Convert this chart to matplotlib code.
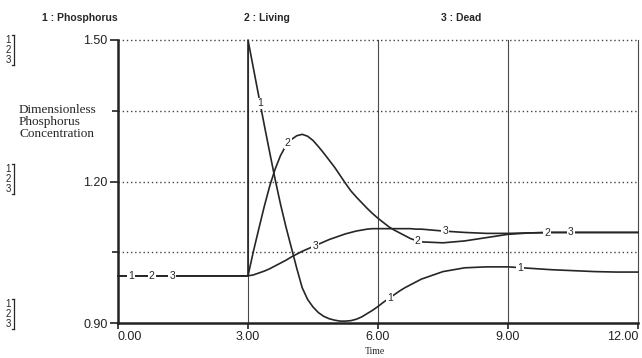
import numpy as np
import matplotlib
matplotlib.use('Agg')
import matplotlib.pyplot as plt
from matplotlib.lines import Line2D

# simulation output, read at these times (t=3 repeated for the pulse)
time = [0.0, 1.0, 2.0, 3.0,
        3.0, 3.125, 3.25, 3.375, 3.5, 3.625, 3.75, 3.875,
        4.0, 4.125, 4.25, 4.375, 4.5, 4.625, 4.75, 4.875,
        5.0, 5.125, 5.25, 5.375, 5.5, 5.625, 5.75, 5.875,
        6.0, 6.125, 6.25, 6.375, 6.5, 6.625, 6.75, 6.875,
        7.0, 7.5, 8.0, 8.5, 9.0, 9.5, 10.0, 10.5, 11.0, 11.5, 12.0]
phosphorus = [1.0, 1.0, 1.0, 1.0,
              1.50, 1.44, 1.38, 1.32, 1.262, 1.205, 1.152, 1.104,
              1.06, 1.016, 0.975, 0.950, 0.934, 0.922, 0.914, 0.909,
              0.906, 0.904, 0.904, 0.905, 0.908, 0.913, 0.92, 0.927,
              0.935, 0.944, 0.952, 0.96, 0.968, 0.975, 0.981, 0.987,
              0.993, 1.009, 1.017, 1.019, 1.019, 1.016, 1.013, 1.011, 1.009, 1.008, 1.008]
living = [1.0, 1.0, 1.0, 1.0,
          1.0, 1.052, 1.10, 1.147, 1.19, 1.226, 1.255, 1.276,
          1.289, 1.297, 1.30, 1.296, 1.287, 1.274, 1.26, 1.245,
          1.23, 1.213, 1.196, 1.18, 1.167, 1.155, 1.143, 1.132,
          1.122, 1.113, 1.104, 1.097, 1.091, 1.085, 1.079, 1.075,
          1.072, 1.070, 1.074, 1.081, 1.088, 1.091, 1.092, 1.092, 1.092, 1.092, 1.092]
dead = [1.0, 1.0, 1.0, 1.0,
        1.0, 1.002, 1.006, 1.010, 1.015, 1.021, 1.027, 1.033,
        1.04, 1.046, 1.052, 1.057, 1.062, 1.067, 1.072, 1.077,
        1.081, 1.085, 1.089, 1.092, 1.095, 1.097, 1.099, 1.100,
        1.100, 1.100, 1.100, 1.100, 1.100, 1.100, 1.100, 1.099,
        1.099, 1.095, 1.092, 1.090, 1.090, 1.091, 1.092, 1.092, 1.092, 1.092, 1.092]

names = ['Phosphorus', 'Living', 'Dead']
series = [phosphorus, living, dead]
# where the curve numbers sit along each line
label_times = [[0.30, 3.28, 6.27, 9.28],
               [0.78, 3.92, 6.92, 9.90],
               [1.25, 4.55, 7.55, 10.45]]

xticks = [0, 3, 6, 9, 12]
xticklabels = ['0.00', '3.00', '6.00', '9.00', '12.00']
yticks = [0.90, 1.20, 1.50]
yticklabels = ['0.90', '1.20', '1.50']
ygrid = [1.05, 1.20, 1.35, 1.50]

ink = '#262626'
sans = 'Liberation Sans'
serif = 'Liberation Serif'

W, H = 642, 358
fig = plt.figure(figsize=(W / 100, H / 100), dpi=100)
ax = fig.add_axes([118 / W, 1 - 323 / H, 520 / W, 283 / H])
ax.set_xlim(0, 12)
ax.set_ylim(0.9, 1.5)

# grid: solid verticals, dotted horizontals
for x in xticks[1:]:
    ax.axvline(x, color='#4a4a4a', lw=0.8, zorder=1, clip_on=False)
for y in ygrid:
    ax.axhline(y, color='#444444', lw=1.0, ls=(0, (1, 2)), zorder=1, clip_on=False)

for i, vals in enumerate(series):
    ax.plot(time, vals, color=ink, lw=1.2, zorder=2, clip_on=False)
    for tl in label_times[i]:
        yv = np.interp(tl, time[4:], vals[4:]) if tl > 3 else vals[0]
        ax.text(tl, yv, str(i + 1), ha='center', va='center', fontsize=7.5,
                family=sans, color=ink, zorder=4,
                bbox=dict(facecolor='white', edgecolor='none', pad=0.6))

for s in ['top', 'right']:
    ax.spines[s].set_visible(False)
for s in ['left', 'bottom']:
    ax.spines[s].set_linewidth(1.8)
    ax.spines[s].set_color('#222222')

ax.set_xticks(xticks)
ax.set_xticklabels(xticklabels)
ax.set_yticks(yticks)
ax.set_yticklabels(yticklabels)
ax.set_yticks([1.05, 1.35], minor=True)
ax.tick_params(axis='both', colors='#222222', labelsize=9, length=6, width=1.2,
               direction='out', pad=1.5)
ax.tick_params(axis='y', which='minor', length=4, width=1.2, colors='#222222')
ax.tick_params(axis='x', length=4)
for lab in ax.get_xticklabels() + ax.get_yticklabels():
    lab.set_family(sans)
xl = ax.get_xticklabels()
xl[0].set_ha('left')
xl[-1].set_ha('right')

# header
for i, (name, xp) in enumerate(zip(names, [42, 244, 441])):
    fig.text(xp / W, 1 - 18 / H, '%d : %s' % (i + 1, name), fontsize=7.5,
             fontweight='bold', family=sans, color=ink, va='center')

# axis titles
fig.text(19 / W, 1 - 122 / H, 'Dimensionless\nPhosphorus\nConcentration',
         fontsize=9.5, family=serif, color=ink, va='center', ha='left',
         linespacing=0.95)
fig.text(375 / W, 1 - 351 / H, 'Time', fontsize=7, family=serif, color=ink,
         ha='center', va='center')

# scale markers beside the axis
for yc in [50, 179, 314]:
    fig.text(8 / W, 1 - yc / H, '1\n2\n3', fontsize=7, family=sans, color=ink,
             ha='center', va='center', linespacing=1.0)
    top, bot = 1 - (yc - 15) / H, 1 - (yc + 15) / H
    xb = 14 / W
    fig.add_artist(Line2D([xb, xb], [bot, top], color=ink, lw=0.9))
    fig.add_artist(Line2D([xb - 2 / W, xb], [top, top], color=ink, lw=0.9))
    fig.add_artist(Line2D([xb - 2 / W, xb], [bot, bot], color=ink, lw=0.9))

fig.savefig('out.png', dpi=100, facecolor='white')
